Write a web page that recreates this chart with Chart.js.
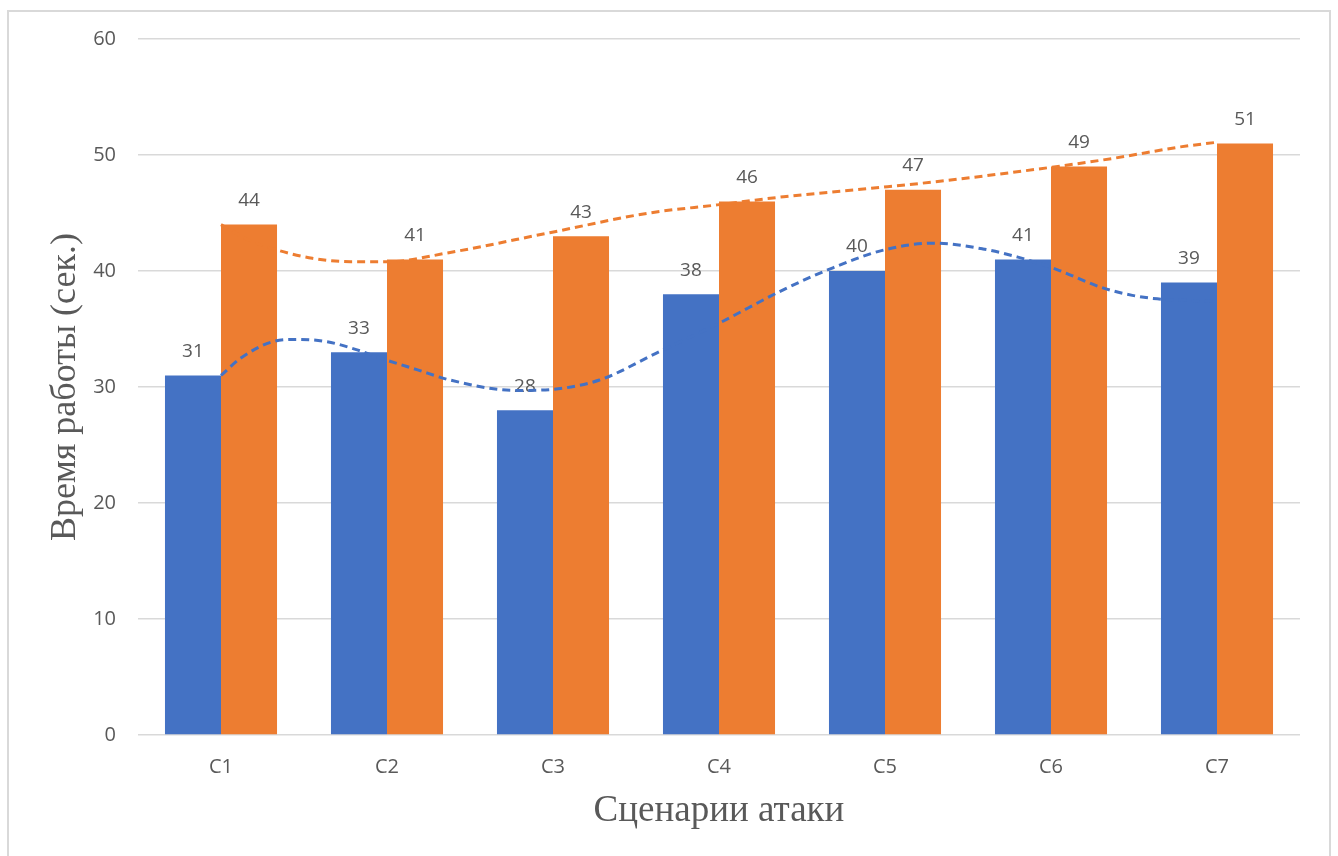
<!DOCTYPE html>
<html>
<head>
<meta charset="utf-8">
<script src="https://cdn.jsdelivr.net/npm/chart.js@4.4.1/dist/chart.umd.min.js"></script>
<style>
  html, body { margin: 0; padding: 0; background: #fff; }
  #wrap { position: relative; width: 1338px; height: 856px; overflow: hidden; }
  #frame { position: absolute; left: 7px; top: 10px; width: 1324px; height: 900px;
           border: 2px solid #d9d9d9; box-sizing: border-box; }
  #chart { position: absolute; left: 0; top: 0; }
</style>
</head>
<body>
<div id="wrap">
  <div id="frame"></div>
  <canvas id="chart" width="1338" height="856"></canvas>
</div>
<script>
// categories and bar values
const categories = ['C1', 'C2', 'C3', 'C4', 'C5', 'C6', 'C7'];
const blueValues = [31, 33, 28, 38, 40, 41, 39];
const orangeValues = [44, 41, 43, 46, 47, 49, 51];
const yTicks = [0, 10, 20, 30, 40, 50, 60];

// trend curves (x in category index units)
const blueTrendX = [0, 0.12, 0.31, 0.46, 0.64, 0.82, 1.0, 1.18, 1.38, 1.78, 2.0, 2.28, 2.62, 3.0, 3.39, 3.69, 3.99, 4.29, 4.59, 4.80, 5.04, 5.30, 5.49, 5.64, 6.0];
const blueTrendY = [31.0, 32.5, 33.9, 34.1, 33.9, 33.2, 32.3, 31.5, 30.6, 29.7, 29.8, 30.6, 32.9, 35.5, 38.4, 40.3, 41.8, 42.4, 41.9, 41.2, 40.1, 38.6, 37.9, 37.6, 37.4];
const orangeTrendX = [0, 0.15, 0.34, 0.55, 0.78, 1.0, 1.38, 1.98, 2.58, 2.99, 3.39, 3.97, 4.37, 4.98, 5.37, 5.78, 6.0];
const orangeTrendY = [44.0, 42.8, 41.8, 41.1, 40.8, 40.8, 41.6, 43.3, 45.0, 45.7, 46.4, 47.2, 47.8, 48.9, 49.7, 50.7, 51.1];

const BLUE = '#4472C4';
const ORANGE = '#ED7D31';
const TEXT = '#595959';

// one shared linear x axis: category i sits at x = i
const toPoints = (xs, ys) => xs.map((x, i) => ({ x: x, y: ys[i] }));
const indexPoints = (ys) => ys.map((y, i) => ({ x: i, y: y }));

// value labels above bars, drawn before the trend lines
const barLabels = {
    id: 'barLabels',
    afterDatasetDraw(chart, args) {
        const ds = chart.data.datasets[args.index];
        if (ds.type === 'line') return;
        const ctx = chart.ctx;
        ctx.save();
        ctx.font = '19px "Open Sans"';
        ctx.fillStyle = TEXT;
        ctx.textAlign = 'center';
        ctx.textBaseline = 'middle';
        args.meta.data.forEach((bar, j) => {
            ctx.fillText(String(ds.data[j].y), bar.x, bar.y - 24);
        });
        ctx.restore();
    }
};

const barStyle = {
    categoryPercentage: 0.675,
    barPercentage: 1.0,
    order: 1
};

const trendStyle = {
    type: 'line',
    borderWidth: 3,
    borderDash: [8, 5],
    pointRadius: 0,
    cubicInterpolationMode: 'monotone',
    fill: false,
    order: 0
};

new Chart(document.getElementById('chart').getContext('2d'), {
    type: 'bar',
    data: {
        datasets: [
            Object.assign({}, barStyle, { data: indexPoints(blueValues), backgroundColor: BLUE }),
            Object.assign({}, barStyle, { data: indexPoints(orangeValues), backgroundColor: ORANGE }),
            Object.assign({}, trendStyle, { data: toPoints(blueTrendX, blueTrendY), borderColor: BLUE }),
            Object.assign({}, trendStyle, { data: toPoints(orangeTrendX, orangeTrendY), borderColor: ORANGE })
        ]
    },
    options: {
        responsive: false,
        animation: false,
        layout: { padding: { left: 0, top: 39, right: 38, bottom: 0 } },
        scales: {
            x: {
                type: 'linear',
                offset: false,
                min: -0.5,
                max: 6.5,
                afterBuildTicks: (scale) => { scale.ticks = categories.map((c, i) => ({ value: i })); },
                grid: { display: false },
                border: { display: false },
                ticks: {
                    color: TEXT,
                    font: { family: 'Open Sans', size: 20 },
                    padding: 12,
                    autoSkip: false,
                    maxRotation: 0,
                    callback: (value) => categories[value]
                },
                title: {
                    display: true,
                    text: 'Сценарии атаки',
                    color: TEXT,
                    font: { family: 'Liberation Serif', size: 37 },
                    padding: { top: 0, bottom: 23 }
                },
                afterFit: (scale) => { scale.height = 121; }
            },
            y: {
                min: 0,
                max: 60,
                afterBuildTicks: (scale) => { scale.ticks = yTicks.map(v => ({ value: v })); },
                grid: { color: '#d9d9d9', lineWidth: 1.5, drawTicks: false },
                border: { display: false },
                ticks: { color: TEXT, font: { family: 'Open Sans', size: 20 }, padding: 22 },
                title: {
                    display: true,
                    text: 'Время работы (сек.)',
                    color: TEXT,
                    font: { family: 'Liberation Serif', size: 36 },
                    padding: { top: 44, bottom: 0 }
                },
                afterFit: (scale) => { scale.width = 138; }
            }
        },
        plugins: {
            legend: { display: false },
            tooltip: { enabled: false }
        }
    },
    plugins: [barLabels]
});
</script>
</body>
</html>
